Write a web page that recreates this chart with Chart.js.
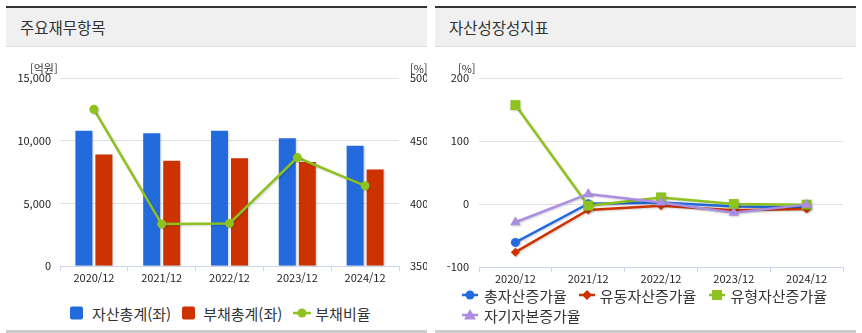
<!DOCTYPE html>
<html lang="ko">
<head>
    <meta charset="UTF-8">
    <script src="https://cdn.jsdelivr.net/npm/chart.js@4.4.1/dist/chart.umd.min.js"></script>
    <title>주요재무항목 / 자산성장성지표</title>
    <style>
        body { margin: 0; background: #fff; font-family: "Malgun Gothic", "Noto Sans CJK KR", sans-serif; color: #333; }
        .panel { position: absolute; top: 6px; width: 421px; height: 322px; border-top: 2px solid #333; border-bottom: 3px solid #ccc; }
        .head { height: 38px; background: #f0f0f0; border-bottom: 1px solid #ddd; font-size: 15.5px; line-height: 38px; padding-left: 14px; color: #333; }
        .panel canvas { position: absolute; left: 0; top: 39px; }
        .unit { position: absolute; top: 52px; font-size: 11px; color: #333; }
        .legend { position: absolute; font-size: 15px; color: #333; display: flex; flex-wrap: wrap; row-gap: 0px; }
        .legend .item { display: flex; align-items: center; height: 20px; margin-right: 11px; }
        .legend canvas { position: static; }
    </style>
</head>
<body>

    <div class="panel" id="p1" style="left:6px">
        <div class="head">주요재무항목</div>
        <canvas id="chart1" width="421" height="253"></canvas>
        <div class="unit" style="left:24px">[억원]</div>
        <div class="unit" style="left:404px">[%]</div>
        <div class="legend" id="legend1" style="left:64px; top:295px; width:360px"></div>
    </div>

    <div class="panel" id="p2" style="left:435px">
        <div class="head">자산성장성지표</div>
        <canvas id="chart2" width="421" height="253"></canvas>
        <div class="unit" style="left:23px">[%]</div>
        <div class="legend" id="legend2" style="left:27px; top:277px; width:400px"></div>
    </div>

    <script>
        // ---- data ----
        const years = ['2020/12', '2021/12', '2022/12', '2023/12', '2024/12'];

        const assetTotal = [10800, 10600, 10800, 10200, 9600];   // 자산총계(좌)
        const debtTotal = [8900, 8400, 8600, 8300, 7700];        // 부채총계(좌)
        const debtRatio = [475, 383.5, 384, 436.5, 414];         // 부채비율

        const totalAssetGrowth = [-61, 0.5, 2.5, -4, -5];        // 총자산증가율
        const currentAssetGrowth = [-76.5, -9.5, -2.7, -10, -8]; // 유동자산증가율
        const tangibleAssetGrowth = [157, -2.7, 10.5, 0, -1];    // 유형자산증가율
        const equityGrowth = [-29, 16, 2.5, -14, -1];            // 자기자본증가율

        const leftTicks = [0, 5000, 10000, 15000];
        const ratioTicks = [350, 400, 450, 500];
        const growthTicks = [-100, 0, 100, 200];

        const BLUE = '#236bdd', RED = '#cc3300', GREEN = '#8dc21f', PURPLE = '#ab8ee2';
        const GRID = '#e3e3e3', AXIS = '#ccd6eb';
        const FONT = "'Malgun Gothic', 'Noto Sans CJK KR', sans-serif";

        Chart.defaults.font.family = FONT;
        Chart.defaults.color = '#222';

        // soft drop shadow like the original
        const shadow = {
            id: 'shadow',
            beforeDatasetDraw(chart) {
                const c = chart.ctx;
                c.save();
                c.shadowColor = 'rgba(0,0,0,0.18)';
                c.shadowOffsetX = 1;
                c.shadowOffsetY = 1;
                c.shadowBlur = 2;
            },
            afterDatasetDraw(chart) { chart.ctx.restore(); }
        };

        function fixedWidth(w) { return function(scale) { scale.width = w; }; }
        function fixedHeight(h) { return function(scale) { scale.height = h; }; }

        // ---- chart 1 ----
        new Chart(document.getElementById('chart1'), {
            type: 'bar',
            data: {
                labels: years,
                datasets: [
                    { type: 'line', label: '부채비율', data: debtRatio, yAxisID: 'y2', order: 0,
                      borderColor: GREEN, backgroundColor: GREEN, borderWidth: 2.5, tension: 0,
                      pointRadius: 4.5, pointHoverRadius: 4.5, pointBorderWidth: 0, pointBackgroundColor: GREEN },
                    { label: '자산총계(좌)', data: assetTotal, yAxisID: 'y', backgroundColor: BLUE, order: 1,
                      categoryPercentage: 0.59, barPercentage: 0.85 },
                    { label: '부채총계(좌)', data: debtTotal, yAxisID: 'y', backgroundColor: RED, order: 1,
                      categoryPercentage: 0.59, barPercentage: 0.85 }
                ]
            },
            options: {
                responsive: false,
                animation: false,
                layout: { padding: { top: 31, left: 0, right: 0, bottom: 0 } },
                plugins: { legend: { display: false }, tooltip: { enabled: false } },
                scales: {
                    x: {
                        grid: { drawOnChartArea: false, drawTicks: true, tickLength: 5, color: AXIS, offset: true },
                        border: { color: AXIS, width: 1 },
                        ticks: { font: { size: 11 }, padding: 0, color: '#222' },
                        afterFit: fixedHeight(34)
                    },
                    y: {
                        position: 'left', min: 0, max: 15000,
                        afterBuildTicks(s) { s.ticks = leftTicks.map(v => ({ value: v })); },
                        grid: { color: GRID, drawTicks: false },
                        border: { display: false },
                        ticks: { font: { size: 11 }, padding: 9, color: '#222',
                                 callback: v => v.toLocaleString('en-US') },
                        afterFit: fixedWidth(54)
                    },
                    y2: {
                        position: 'right', min: 350, max: 500,
                        afterBuildTicks(s) { s.ticks = ratioTicks.map(v => ({ value: v })); },
                        grid: { drawOnChartArea: false, drawTicks: false },
                        border: { display: false },
                        ticks: { font: { size: 11 }, padding: 11, color: '#222' },
                        afterFit: fixedWidth(28)
                    }
                }
            },
            plugins: [shadow]
        });

        // ---- chart 2 ----
        function lineSet(label, data, color, style, radius, order) {
            return { label: label, data: data, borderColor: color, backgroundColor: color,
                     borderWidth: 2.5, tension: 0, pointStyle: style, pointRadius: radius,
                     pointHoverRadius: radius, pointBorderWidth: 0, order: order };
        }

        new Chart(document.getElementById('chart2'), {
            type: 'line',
            data: {
                labels: years,
                datasets: [
                    lineSet('총자산증가율', totalAssetGrowth, BLUE, 'circle', 4.5, 4),
                    lineSet('유동자산증가율', currentAssetGrowth, RED, 'rectRot', 4.5, 3),
                    lineSet('유형자산증가율', tangibleAssetGrowth, GREEN, 'rect', 7, 2),
                    lineSet('자기자본증가율', equityGrowth, PURPLE, 'triangle', 6, 1)
                ]
            },
            options: {
                responsive: false,
                animation: false,
                layout: { padding: { top: 31, left: 0, right: 13, bottom: 0 } },
                plugins: { legend: { display: false }, tooltip: { enabled: false } },
                scales: {
                    x: {
                        offset: true,
                        grid: { drawOnChartArea: false, drawTicks: true, tickLength: 5, color: AXIS, offset: true },
                        border: { color: AXIS, width: 1 },
                        ticks: { font: { size: 11 }, padding: 0, color: '#222' },
                        afterFit: fixedHeight(33)
                    },
                    y: {
                        min: -100, max: 200,
                        afterBuildTicks(s) { s.ticks = growthTicks.map(v => ({ value: v })); },
                        grid: { color: GRID, drawTicks: false },
                        border: { display: false },
                        ticks: { font: { size: 11 }, padding: 10, color: '#222' },
                        afterFit: fixedWidth(44)
                    }
                }
            },
            plugins: [shadow]
        });

        // ---- html legends ----
        function marker(kind, color, w) {
            const cv = document.createElement('canvas');
            cv.width = w; cv.height = 16;
            const c = cv.getContext('2d');
            c.fillStyle = color; c.strokeStyle = color;
            const cx = w / 2, cy = 8;
            if (kind === 'box') {
                c.beginPath();
                c.roundRect(0, 1.5, 13, 13, 2);
                c.fill();
                return cv;
            }
            c.lineWidth = 2.5;
            c.beginPath(); c.moveTo(0, cy); c.lineTo(w, cy); c.stroke();
            c.beginPath();
            if (kind === 'circle') c.arc(cx, cy, 4.5, 0, Math.PI * 2);
            else if (kind === 'diamond') { c.moveTo(cx, cy - 5); c.lineTo(cx + 5, cy); c.lineTo(cx, cy + 5); c.lineTo(cx - 5, cy); }
            else if (kind === 'square') c.rect(cx - 5, cy - 5, 10, 10);
            else if (kind === 'triangle') { c.moveTo(cx, cy - 6); c.lineTo(cx + 6, cy + 4.5); c.lineTo(cx - 6, cy + 4.5); }
            c.closePath(); c.fill();
            return cv;
        }

        function addItem(box, kind, color, w, text, gap, after) {
            const item = document.createElement('span');
            item.className = 'item';
            item.style.marginRight = after + 'px';
            const m = marker(kind, color, w);
            m.style.marginRight = gap + 'px';
            item.appendChild(m);
            const t = document.createElement('span');
            t.textContent = text;
            item.appendChild(t);
            box.appendChild(item);
        }

        const lg1 = document.getElementById('legend1');
        addItem(lg1, 'box', BLUE, 13, '자산총계(좌)', 9, 11);
        addItem(lg1, 'box', RED, 13, '부채총계(좌)', 8, 11);
        addItem(lg1, 'circle', GREEN, 18, '부채비율', 4, 0);

        const lg2 = document.getElementById('legend2');
        addItem(lg2, 'circle', BLUE, 16, '총자산증가율', 6, 12);
        addItem(lg2, 'diamond', RED, 16, '유동자산증가율', 5, 13);
        addItem(lg2, 'square', GREEN, 16, '유형자산증가율', 5, 0);
        addItem(lg2, 'triangle', PURPLE, 16, '자기자본증가율', 6, 0);
    </script>

</body>
</html>
